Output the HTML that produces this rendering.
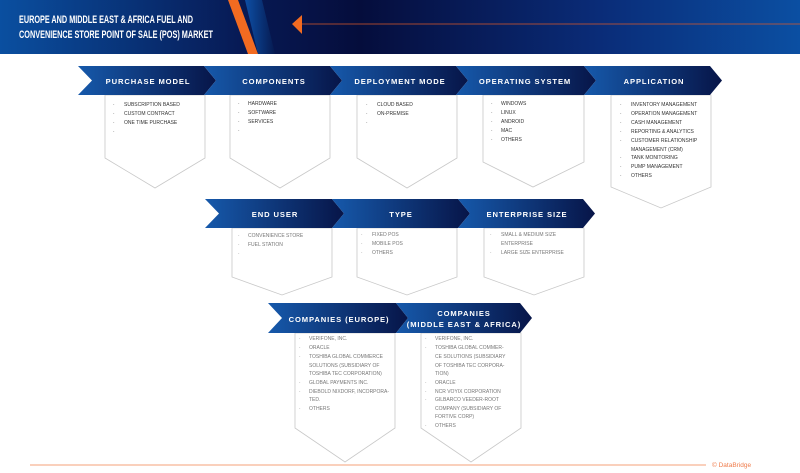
<!DOCTYPE html>
<html><head><meta charset="utf-8"><style>
html,body{margin:0;padding:0;background:#fff;}
svg{display:block;font-family:"Liberation Sans",sans-serif;}
.h{fill:#fff;font-weight:bold;font-size:7.6px;letter-spacing:0.9px;text-anchor:middle;}
.t{font-size:5px;fill:#333;}
.g{font-size:5px;fill:#777;}
.box{fill:#fff;stroke:#c8c8c8;stroke-width:0.8;}
</style></head><body>
<svg width="800" height="473" viewBox="0 0 800 473">
<defs>
<linearGradient id="hd" x1="0" x2="1" y1="0" y2="0">
<stop offset="0" stop-color="#0a4fa0"/><stop offset="0.3" stop-color="#071a55"/><stop offset="0.45" stop-color="#050d3c"/><stop offset="0.75" stop-color="#0a2c78"/><stop offset="1" stop-color="#0b4fa2"/>
</linearGradient>
<linearGradient id="ar" x1="0" x2="1" y1="0" y2="0">
<stop offset="0" stop-color="#1659ab"/><stop offset="1" stop-color="#071548"/>
</linearGradient>
<linearGradient id="st" x1="0" x2="1"><stop offset="0" stop-color="#0d4fa5"/><stop offset="1" stop-color="#061a50"/></linearGradient>
</defs>
<rect x="0" y="0" width="800" height="54" fill="url(#hd)"/>
<polygon points="245,0 262,0 275,54 258,54" fill="url(#st)"/>
<polygon points="228,0 238,0 258,54 248,54" fill="#f26b21"/>
<polygon points="292,24 302,15 302,34" fill="#f26b21"/>
<line x1="302" y1="24" x2="800" y2="24" stroke="#d9582a" stroke-width="0.8"/>
<text x="19" y="23" fill="#fff" font-weight="bold" font-size="11" textLength="174" lengthAdjust="spacingAndGlyphs">EUROPE AND MIDDLE EAST &amp; AFRICA FUEL AND</text>
<text x="19" y="38" fill="#fff" font-weight="bold" font-size="11" textLength="194" lengthAdjust="spacingAndGlyphs">CONVENIENCE STORE POINT OF SALE (POS) MARKET</text>

<polygon class="box" points="105,95 205,95 205,158 155,188 105,158"/>
<polygon class="box" points="230,95 330,95 330,158 280,188 230,158"/>
<polygon class="box" points="357,95 457,95 457,158 407,188 357,158"/>
<polygon class="box" points="483,95 584,95 584,162 533,187 483,162"/>
<polygon class="box" points="611,95 711,95 711,187 661,208 611,187"/>
<polygon fill="url(#ar)" points="78,66 204,66 216,80.5 204,95 78,95 92,80.5"/>
<polygon fill="url(#ar)" points="204,66 330,66 342,80.5 330,95 204,95 216,80.5"/>
<polygon fill="url(#ar)" points="330,66 456,66 468,80.5 456,95 330,95 342,80.5"/>
<polygon fill="url(#ar)" points="456,66 584,66 596,80.5 584,95 456,95 468,80.5"/>
<polygon fill="url(#ar)" points="584,66 710,66 722,80.5 710,95 584,95 596,80.5"/>
<text class="h" x="148" y="84">PURCHASE MODEL</text>
<text class="h" x="274" y="84">COMPONENTS</text>
<text class="h" x="400" y="84">DEPLOYMENT MODE</text>
<text class="h" x="525" y="84">OPERATING SYSTEM</text>
<text class="h" x="654" y="84">APPLICATION</text>

<g class="t">
<text x="113" y="106">·</text><text x="124" y="106">SUBSCRIPTION BASED</text>
<text x="113" y="115">·</text><text x="124" y="115">CUSTOM CONTRACT</text>
<text x="113" y="124">·</text><text x="124" y="124">ONE TIME PURCHASE</text>
<text x="113" y="133">·</text>
<text x="238" y="105">·</text><text x="248" y="105">HARDWARE</text>
<text x="238" y="114">·</text><text x="248" y="114">SOFTWARE</text>
<text x="238" y="123">·</text><text x="248" y="123">SERVICES</text>
<text x="238" y="132">·</text>
<text x="366" y="106">·</text><text x="377" y="106">CLOUD BASED</text>
<text x="366" y="115">·</text><text x="377" y="115">ON-PREMISE</text>
<text x="366" y="124">·</text>
<text x="491" y="105">·</text><text x="501" y="105">WINDOWS</text>
<text x="491" y="114">·</text><text x="501" y="114">LINUX</text>
<text x="491" y="123">·</text><text x="501" y="123">ANDROID</text>
<text x="491" y="132">·</text><text x="501" y="132">MAC</text>
<text x="491" y="141">·</text><text x="501" y="141">OTHERS</text>
<text x="620" y="106">·</text><text x="631" y="106">INVENTORY MANAGEMENT</text>
<text x="620" y="115">·</text><text x="631" y="115">OPERATION MANAGEMENT</text>
<text x="620" y="124">·</text><text x="631" y="124">CASH MANAGEMENT</text>
<text x="620" y="133">·</text><text x="631" y="133">REPORTING &amp; ANALYTICS</text>
<text x="620" y="142">·</text><text x="631" y="142">CUSTOMER RELATIONSHIP</text>
<text x="631" y="151">MANAGEMENT (CRM)</text>
<text x="620" y="159">·</text><text x="631" y="159">TANK MONITORING</text>
<text x="620" y="168">·</text><text x="631" y="168">PUMP MANAGEMENT</text>
<text x="620" y="177">·</text><text x="631" y="177">OTHERS</text>
</g>

<polygon class="box" points="232,228 332,228 332,277 282,295 232,277"/>
<polygon class="box" points="357,228 457,228 457,277 407,295 357,277"/>
<polygon class="box" points="484,228 584,228 584,277 534,295 484,277"/>
<polygon fill="url(#ar)" points="205,199 332,199 344,213.5 332,228 205,228 219,213.5"/>
<polygon fill="url(#ar)" points="332,199 458,199 470,213.5 458,228 332,228 344,213.5"/>
<polygon fill="url(#ar)" points="458,199 583,199 595,213.5 583,228 458,228 470,213.5"/>
<text class="h" x="275" y="217">END USER</text>
<text class="h" x="401" y="217">TYPE</text>
<text class="h" x="527" y="217">ENTERPRISE SIZE</text>
<g class="g">
<text x="238" y="237">·</text><text x="248" y="237">CONVENIENCE STORE</text>
<text x="238" y="246">·</text><text x="248" y="246">FUEL STATION</text>
<text x="238" y="255">·</text>
<text x="361" y="236">·</text><text x="372" y="236">FIXED POS</text>
<text x="361" y="245">·</text><text x="372" y="245">MOBILE POS</text>
<text x="361" y="254">·</text><text x="372" y="254">OTHERS</text>
<text x="490" y="236">·</text><text x="501" y="236">SMALL &amp; MEDIUM SIZE</text>
<text x="501" y="245">ENTERPRISE</text>
<text x="490" y="254">·</text><text x="501" y="254">LARGE SIZE ENTERPRISE</text>
</g>

<polygon class="box" points="295,333 395,333 395,428 345,462 295,428"/>
<polygon class="box" points="421,333 521,333 521,428 471,462 421,428"/>
<polygon fill="url(#ar)" points="268,303 396,303 408,318 396,333 268,333 282,318"/>
<polygon fill="url(#ar)" points="396,303 520,303 532,318 520,333 396,333 408,318"/>
<text class="h" x="339" y="322">COMPANIES (EUROPE)</text>
<text class="h" x="464" y="316">COMPANIES</text>
<text class="h" x="464" y="327">(MIDDLE EAST &amp; AFRICA)</text>
<g class="g">
<text x="299" y="340">·</text><text x="309" y="340">VERIFONE, INC.</text>
<text x="299" y="349">·</text><text x="309" y="349">ORACLE</text>
<text x="299" y="358">·</text><text x="309" y="358">TOSHIBA GLOBAL COMMERCE</text>
<text x="309" y="367">SOLUTIONS (SUBSIDIARY OF</text>
<text x="309" y="375">TOSHIBA TEC CORPORATION)</text>
<text x="299" y="384">·</text><text x="309" y="384">GLOBAL PAYMENTS INC.</text>
<text x="299" y="393">·</text><text x="309" y="393">DIEBOLD NIXDORF, INCORPORA-</text>
<text x="309" y="401">TED.</text>
<text x="299" y="410">·</text><text x="309" y="410">OTHERS</text>
<text x="425" y="340">·</text><text x="435" y="340">VERIFONE, INC.</text>
<text x="425" y="349">·</text><text x="435" y="349">TOSHIBA GLOBAL COMMER-</text>
<text x="435" y="358">CE SOLUTIONS (SUBSIDIARY</text>
<text x="435" y="367">OF TOSHIBA TEC CORPORA-</text>
<text x="435" y="375">TION)</text>
<text x="425" y="384">·</text><text x="435" y="384">ORACLE</text>
<text x="425" y="393">·</text><text x="435" y="393">NCR VOYIX CORPORATION</text>
<text x="425" y="401">·</text><text x="435" y="401">GILBARCO VEEDER-ROOT</text>
<text x="435" y="410">COMPANY (SUBSIDIARY OF</text>
<text x="435" y="418">FORTIVE CORP)</text>
<text x="425" y="427">·</text><text x="435" y="427">OTHERS</text>
</g>

<line x1="30" y1="465" x2="706" y2="465" stroke="#f5a27a" stroke-width="1"/>
<text x="712" y="467" font-size="6.5" fill="#ef7b4a">© DataBridge</text>
</svg>
</body></html>
